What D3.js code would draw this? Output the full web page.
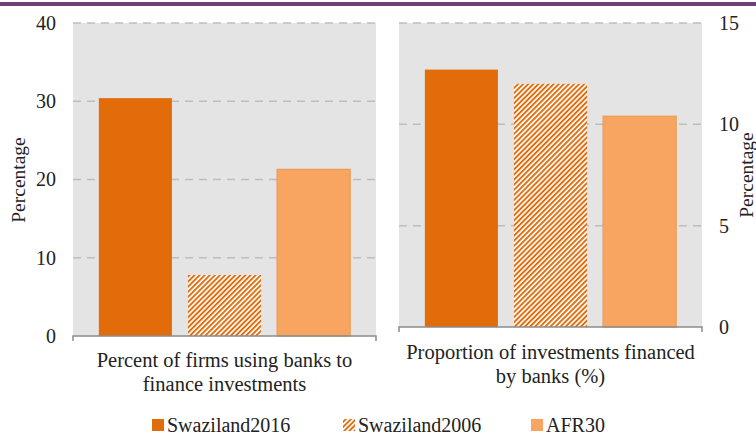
<!DOCTYPE html>
<html>
<head>
<meta charset="utf-8">
<script src="https://cdn.jsdelivr.net/npm/d3@7"></script>
</head>
<body style="margin:0;background:#fff">
<div id="chart"></div>
<script>
// series names, in legend order
var seriesNames = ['Swaziland2016', 'Swaziland2006', 'AFR30'];
// left panel: percent of firms using banks to finance investments
var firmsValues = [30.4, 7.8, 21.3];
var firmsTicks = [0, 10, 20, 30, 40];
// right panel: proportion of investments financed by banks
var propValues = [12.7, 12.0, 10.4];
var propTicks = [0, 5, 10, 15];
var leftLabel = ['Percent of firms using banks to', 'finance investments'];
var rightLabel = ['Proportion of investments financed', 'by banks (%)'];

var W = 756, H = 435;
var dark = '#e36c0a', light = '#f7a560', lightEdge = '#eb9c56';
var FONT = "'Liberation Serif'";

var svg = d3.select('#chart').append('svg')
  .attr('width', W)
  .attr('height', H)
  .style('display', 'block');

var defs = svg.append('defs');
var pat = defs.append('pattern')
  .attr('id', 'hatch')
  .attr('patternUnits', 'userSpaceOnUse')
  .attr('width', 3.6)
  .attr('height', 3.6)
  .attr('patternTransform', 'rotate(45)');
pat.append('rect').attr('width', 3.6).attr('height', 3.6).attr('fill', '#fff');
pat.append('rect').attr('x', 0).attr('width', 1.9).attr('height', 3.6).attr('fill', dark);

// purple rule at the top
svg.append('rect')
  .attr('x', 0).attr('y', 2)
  .attr('width', W).attr('height', 4)
  .attr('fill', '#6b3f78');

function fillFor(i) {
  if (i === 0) return dark;
  if (i === 1) return 'url(#hatch)';
  return light;
}

function panel(opts) {
  var x = d3.scaleBand()
    .domain(seriesNames)
    .range([opts.x0, opts.x1])
    .paddingInner(0.18)
    .paddingOuter(0.29);

  var y = d3.scaleLinear()
    .domain([0, d3.max(opts.ticks)])
    .range([opts.base, opts.top]);

  var g = svg.append('g');

  // plot background
  g.append('rect')
    .attr('x', opts.x0).attr('y', opts.top)
    .attr('width', opts.x1 - opts.x0)
    .attr('height', opts.base - opts.top)
    .attr('fill', '#e4e4e4');

  // dashed gridlines
  g.selectAll('line.grid')
    .data(opts.ticks.filter(function(t) { return t > 0; }))
    .enter()
    .append('line')
    .attr('class', 'grid')
    .attr('x1', opts.x0).attr('x2', opts.x1)
    .attr('y1', function(d) { return y(d); })
    .attr('y2', function(d) { return y(d); })
    .attr('stroke', '#bdbdbd')
    .attr('stroke-width', 1.5)
    .attr('stroke-dasharray', '8,6');

  // bars
  g.selectAll('rect.bar')
    .data(opts.values)
    .enter()
    .append('rect')
    .attr('class', 'bar')
    .attr('x', function(d, i) { return x(seriesNames[i]); })
    .attr('width', x.bandwidth())
    .attr('y', function(d) { return y(d); })
    .attr('height', function(d) { return opts.base - y(d); })
    .attr('fill', function(d, i) { return fillFor(i); })
    .attr('stroke', function(d, i) { return i === 2 ? lightEdge : 'none'; })
    .attr('stroke-width', 1.2);

  // baseline with end ticks
  g.append('path')
    .attr('d', 'M' + opts.x0 + ',' + (opts.base + 5) + 'V' + opts.base + 'H' + opts.x1 + 'V' + (opts.base + 5))
    .attr('fill', 'none')
    .attr('stroke', '#8c8c8c')
    .attr('stroke-width', 1.5);

  // tick labels
  var axis = opts.right ? d3.axisRight(y) : d3.axisLeft(y);
  axis.tickValues(opts.ticks).tickSize(0).tickPadding(0);
  var ax = g.append('g')
    .attr('transform', 'translate(' + opts.labelX + ',0)')
    .call(axis);
  ax.select('.domain').remove();
  ax.selectAll('text')
    .style('font-family', FONT)
    .style('font-size', '20px')
    .attr('fill', '#222');

  // axis title
  g.append('text')
    .attr('transform', 'translate(' + opts.titleX + ',' + opts.titleY + ') rotate(-90)')
    .attr('text-anchor', 'middle')
    .style('font-family', FONT)
    .style('font-size', '19.5px')
    .attr('fill', '#222')
    .text('Percentage');

  // category label
  var cx = (opts.x0 + opts.x1) / 2;
  var t = g.append('text')
    .attr('text-anchor', 'middle')
    .style('font-family', FONT)
    .style('font-size', '20.5px')
    .attr('fill', '#222');
  opts.label.forEach(function(line, i) {
    t.append('tspan')
      .attr('x', cx)
      .attr('y', opts.labelY + i * 24)
      .text(line);
  });
}

panel({
  x0: 73, x1: 376, top: 23, base: 336,
  ticks: firmsTicks, values: firmsValues,
  right: false, labelX: 56,
  titleX: 25, titleY: 180,
  label: leftLabel, labelY: 367
});

panel({
  x0: 399, x1: 702, top: 23, base: 327,
  ticks: propTicks, values: propValues,
  right: true, labelX: 719,
  titleX: 753, titleY: 175,
  label: rightLabel, labelY: 359
});

// legend
var legendX = [152, 343, 531];
var lg = svg.append('g');
seriesNames.forEach(function(name, i) {
  lg.append('rect')
    .attr('x', legendX[i]).attr('y', 419)
    .attr('width', 12).attr('height', 12)
    .attr('fill', fillFor(i));
  lg.append('text')
    .attr('x', legendX[i] + 15).attr('y', 432)
    .style('font-family', FONT)
    .style('font-size', '20px')
    .attr('fill', '#222')
    .text(name);
});
</script>
</body>
</html>
